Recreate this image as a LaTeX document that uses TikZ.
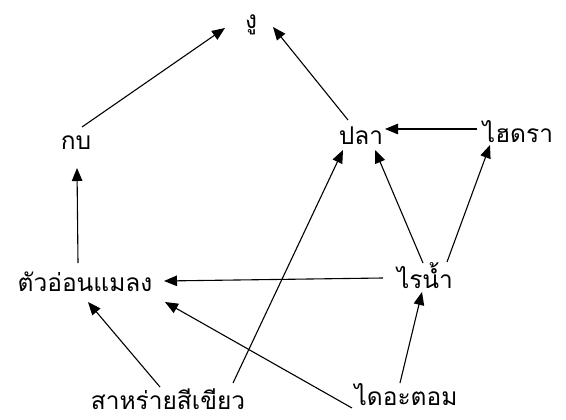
\documentclass[tikz,border=0pt]{standalone}
\usepackage{fontspec}
\newfontfamily\thaifont[Script=Thai]{Loma}
\usetikzlibrary{arrows.meta}

\begin{document}
\begin{tikzpicture}[
  x=1pt, y=-1pt,
  species/.style={font=\thaifont\fontsize{24.5}{28}\selectfont, inner sep=0pt},
  eats/.style={-{Triangle[length=13pt,width=10.5pt]}, line width=1.1pt}
]
\useasboundingbox (0,0) rectangle (566,420);
\node[species] (snake) at (251,25) {งู};
\node[species] (frog) at (76,143) {กบ};
\node[species] (fish) at (361,136) {ปลา};
\node[species] (hydra) at (518,132) {ไฮดรา};
\node[species] (larva) at (85,282) {ตัวอ่อนแมลง};
\node[species] (daphnia) at (425,276) {ไรน้ำ};
\node[species] (alga) at (168,399) {สาหร่ายสีเขียว};
\node[species] (diatom) at (406,395) {ไดอะตอม};
\draw[eats] ([shift={(6,-16)}]frog.center) -- ([shift={(-26,3)}]snake.center);
\draw[eats] ([shift={(-13,-16)}]fish.center) -- ([shift={(22,2)}]snake.center);
\draw[eats] ([shift={(-41,-3)}]hydra.center) -- ([shift={(24,-7)}]fish.center);
\draw[eats] ([shift={(-7,-19)}]larva.center) -- ([shift={(1,25)}]frog.center);
\draw[eats] ([shift={(-2,-13)}]daphnia.center) -- ([shift={(14,14)}]fish.center);
\draw[eats] ([shift={(22,-14)}]daphnia.center) -- ([shift={(-28,13)}]hydra.center);
\draw[eats] ([shift={(-42,2)}]daphnia.center) -- ([shift={(79,-1)}]larva.center);
\draw[eats] ([shift={(-8,-12)}]alga.center) -- ([shift={(3,20)}]larva.center);
\draw[eats] ([shift={(65,-16)}]alga.center) -- ([shift={(-18,14)}]fish.center);
\draw[eats] ([shift={(-54,13)}]diatom.center) -- ([shift={(80,20)}]larva.center);
\draw[eats] ([shift={(-6,-12)}]diatom.center) -- ([shift={(-3,16)}]daphnia.center);
\end{tikzpicture}
\end{document}
